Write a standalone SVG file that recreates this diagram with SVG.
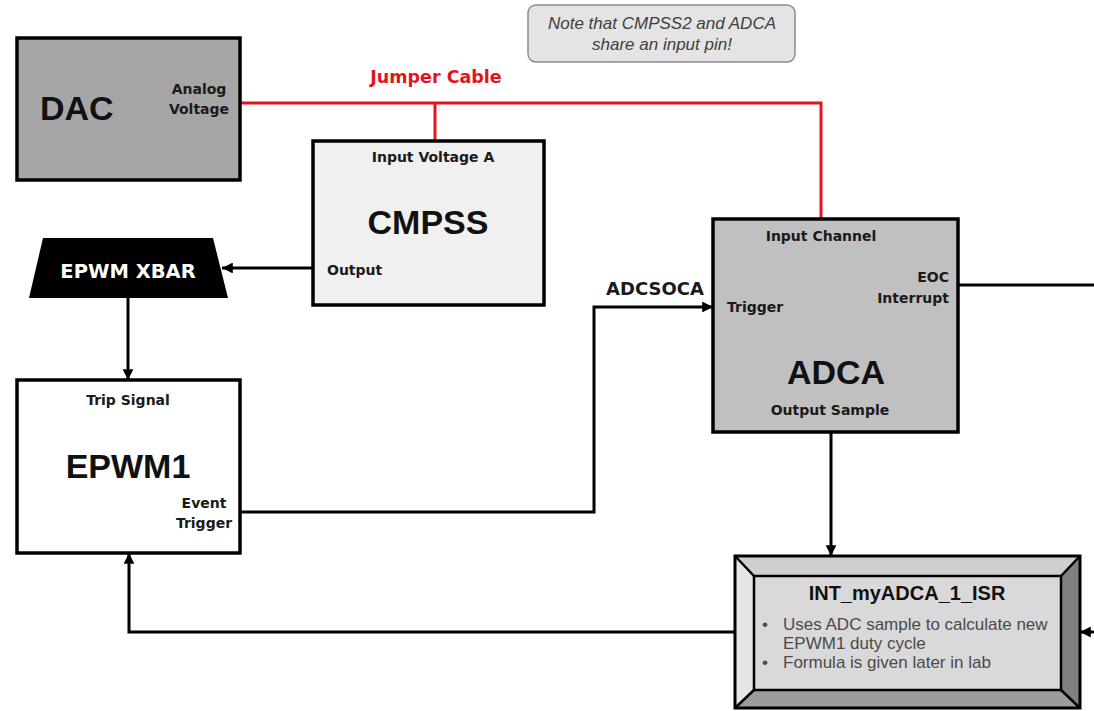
<svg xmlns="http://www.w3.org/2000/svg" width="1094" height="711" viewBox="0 0 1094 711">
<style>
.box{stroke:#000;stroke-width:3.5}
.big{font-family:"Liberation Sans",Arial,sans-serif;font-weight:bold;font-size:34px;fill:#111}
.lbl{font-family:"DejaVu Sans",Verdana,sans-serif;font-weight:bold;font-size:14px;fill:#1a1a1a}
.wire{fill:none;stroke:#000;stroke-width:3}
.red{fill:none;stroke:#e3141c;stroke-width:3}
.note{font-family:"Liberation Sans",Arial,sans-serif;font-style:italic;font-size:17px;fill:#404040}
.bul{font-family:"Liberation Sans",Arial,sans-serif;font-size:17px;fill:#4a4a4a}
</style>
<defs>
<marker id="arr" viewBox="0 0 10 10" refX="10" refY="5" markerWidth="4" markerHeight="3.6" markerUnits="strokeWidth" orient="auto">
<path d="M0,0 L10,5 L0,10 z" fill="#000"/>
</marker>
</defs>
<rect width="1094" height="711" fill="#fff"/>

<g id="connectors">
<path class="red" d="M241,103 H821 V219"/>
<path class="red" d="M435,103 V141"/>
<text x="436" y="83" text-anchor="middle" font-family="DejaVu Sans,Verdana,sans-serif" font-weight="bold" font-size="17.5" fill="#e3141c">Jumper Cable</text>
<path class="wire" d="M313,268 H222" marker-end="url(#arr)"/>
<path class="wire" d="M128,298 V380" marker-end="url(#arr)"/>
<path class="wire" d="M241,512 H594 V307 H713" marker-end="url(#arr)"/>
<text x="655" y="295" text-anchor="middle" font-family="DejaVu Sans,Verdana,sans-serif" font-weight="bold" font-size="18" fill="#1a1a1a">ADCSOCA</text>
<path class="wire" d="M958,285 H1094"/>
<path class="wire" d="M831,433 V556" marker-end="url(#arr)"/>
<path class="wire" d="M735,632 H129 V553" marker-end="url(#arr)"/>
<path class="wire" d="M1094,632 H1080" marker-end="url(#arr)"/>
</g>

<g id="note">
<rect x="528" y="5" width="267" height="57" rx="8" fill="#e4e4e4" stroke="#8c8c8c" stroke-width="1.5"/>
<text class="note" x="662" y="29" text-anchor="middle">Note that CMPSS2 and ADCA</text>
<text class="note" x="662" y="50" text-anchor="middle">share an input pin!</text>
</g>

<g id="dac">
<rect class="box" x="17" y="38" width="223" height="142" fill="#a6a6a6"/>
<text class="big" x="40" y="120">DAC</text>
<text class="lbl" x="199" y="94" text-anchor="middle">Analog</text>
<text class="lbl" x="199" y="114" text-anchor="middle">Voltage</text>
</g>

<g id="cmpss">
<rect class="box" x="313" y="141" width="231" height="164" fill="#f0f0f0"/>
<text class="lbl" x="433" y="162" text-anchor="middle">Input Voltage A</text>
<text class="big" x="428" y="234" text-anchor="middle">CMPSS</text>
<text class="lbl" x="327" y="275">Output</text>
</g>

<g id="epwmxbar">
<polygon points="43,238 213,238 228,298 29,298" fill="#000"/>
<text x="128" y="278" text-anchor="middle" font-family="DejaVu Sans,Verdana,sans-serif" font-weight="bold" font-size="19.5" fill="#fff">EPWM XBAR</text>
</g>

<g id="epwm1">
<rect class="box" x="17" y="380" width="223" height="173" fill="#fff"/>
<text class="lbl" x="128" y="405" text-anchor="middle">Trip Signal</text>
<text class="big" x="128" y="478" text-anchor="middle">EPWM1</text>
<text class="lbl" x="204" y="508" text-anchor="middle">Event</text>
<text class="lbl" x="204" y="528" text-anchor="middle">Trigger</text>
</g>

<g id="adca">
<rect class="box" x="713" y="219" width="245" height="213" fill="#c0c0c0"/>
<text class="lbl" x="821" y="241" text-anchor="middle">Input Channel</text>
<text class="lbl" x="949" y="282" text-anchor="end">EOC</text>
<text class="lbl" x="949" y="303" text-anchor="end">Interrupt</text>
<text class="lbl" x="727" y="312">Trigger</text>
<text class="big" x="836" y="384" text-anchor="middle">ADCA</text>
<text class="lbl" x="830" y="415" text-anchor="middle">Output Sample</text>
</g>

<g id="isr">
<polygon points="735,556 1080,556 1061,576 754,576" fill="#cfcfcf"/>
<polygon points="735,556 754,576 754,690 735,708" fill="#e6e6e6"/>
<polygon points="1080,556 1080,708 1061,690 1061,576" fill="#808080"/>
<polygon points="735,708 754,690 1061,690 1080,708" fill="#9c9c9c"/>
<rect x="754" y="576" width="307" height="114" fill="#d9d9d9" stroke="#000" stroke-width="2.5"/>
<path d="M735,556 L754,576 M1080,556 L1061,576 M735,708 L754,690 M1080,708 L1061,690" stroke="#000" stroke-width="2.5"/>
<rect x="735" y="556" width="345" height="152" fill="none" stroke="#000" stroke-width="3"/>
<text x="907" y="600" text-anchor="middle" font-family="Liberation Sans,Arial,sans-serif" font-weight="bold" font-size="20" fill="#111">INT_myADCA_1_ISR</text>
<text class="bul" x="762" y="630">•</text>
<text class="bul" x="783" y="630">Uses ADC sample to calculate new</text>
<text class="bul" x="783" y="649">EPWM1 duty cycle</text>
<text class="bul" x="762" y="668">•</text>
<text class="bul" x="783" y="668">Formula is given later in lab</text>
</g>
</svg>
